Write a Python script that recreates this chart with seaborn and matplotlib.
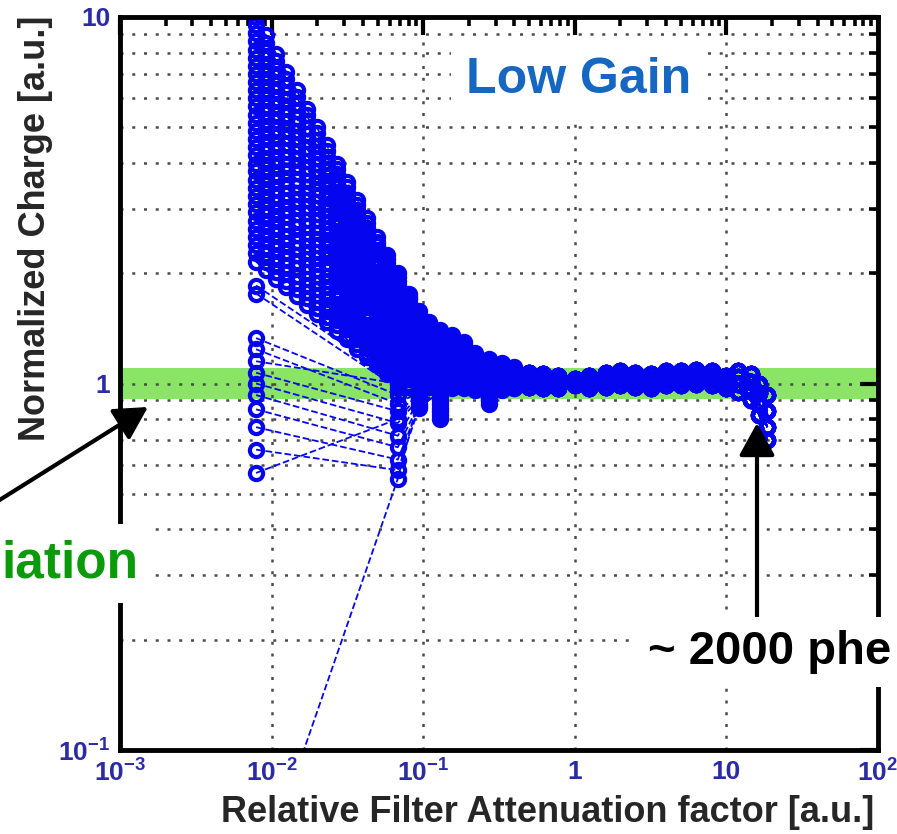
import matplotlib
matplotlib.use('Agg')
import pandas as pd
import matplotlib.pyplot as plt
from matplotlib.patches import FancyArrowPatch
import seaborn as sns

# %%
# attenuation factors, saturated part / transition / flat part
HEAD_X = [0.0079, 0.0092, 0.0107, 0.0125, 0.0146, 0.0170, 0.0198, 0.0231,
          0.0269, 0.0314, 0.0366, 0.0427, 0.0498, 0.0580, 0.0680]
NEAR_X = [0.080, 0.094, 0.11, 0.13, 0.155, 0.185, 0.22, 0.27, 0.33, 0.40]
FLAT_X = [0.50, 0.62, 0.78, 1.0, 1.25, 1.6, 2.0, 2.5, 3.2, 4.0, 5.0, 6.3,
          8.0, 10.0, 12.0, 14.5, 16.5, 18.6]

# normalized charge of the saturated pixels
HEAD_Y = [
    [10.0, 8.91, 7.94, 7.08, 6.31, 5.62, 5.01, 4.47, 3.98, 3.55, 3.16, 2.82, 2.51, 2.24, 2.00],
    [9.52, 8.50, 7.58, 6.77, 6.05, 5.40, 4.82, 4.31, 3.85, 3.43, 3.06, 2.74, 2.44, 2.18, 1.95],
    [9.04, 8.09, 7.23, 6.47, 5.79, 5.19, 4.63, 4.15, 3.72, 3.32, 2.97, 2.66, 2.38, 2.13, 1.91],
    [8.59, 7.71, 6.90, 6.19, 5.55, 4.98, 4.46, 4.00, 3.59, 3.21, 2.88, 2.58, 2.31, 2.08, 1.86],
    [8.15, 7.33, 6.58, 5.92, 5.31, 4.78, 4.29, 3.85, 3.46, 3.11, 2.79, 2.51, 2.25, 2.03, 1.82],
    [7.75, 6.98, 6.28, 5.66, 5.09, 4.59, 4.12, 3.71, 3.34, 3.01, 2.70, 2.44, 2.19, 1.98, 1.78],
    [7.36, 6.64, 5.98, 5.41, 4.88, 4.40, 3.96, 3.58, 3.23, 2.91, 2.62, 2.37, 2.14, 1.93, 1.74],
    [7.00, 6.32, 5.71, 5.17, 4.67, 4.22, 3.81, 3.45, 3.12, 2.81, 2.54, 2.30, 2.08, 1.88, 1.70],
    [6.64, 6.01, 5.44, 4.93, 4.47, 4.05, 3.66, 3.32, 3.01, 2.72, 2.47, 2.23, 2.02, 1.83, 1.66],
    [6.32, 5.73, 5.19, 4.72, 4.28, 3.88, 3.52, 3.20, 2.91, 2.63, 2.39, 2.17, 1.96, 1.78, 1.62],
    [6.00, 5.46, 4.95, 4.51, 4.10, 3.72, 3.39, 3.08, 2.81, 2.55, 2.32, 2.11, 1.91, 1.74, 1.58],
    [5.70, 5.20, 4.73, 4.31, 3.93, 3.58, 3.26, 2.97, 2.71, 2.47, 2.25, 2.05, 1.86, 1.70, 1.54],
    [5.41, 4.94, 4.51, 4.12, 3.76, 3.44, 3.13, 2.86, 2.61, 2.39, 2.18, 1.99, 1.82, 1.66, 1.51],
    [5.15, 4.71, 4.30, 3.94, 3.60, 3.30, 3.01, 2.76, 2.52, 2.31, 2.11, 1.93, 1.77, 1.62, 1.48],
    [4.89, 4.48, 4.10, 3.77, 3.45, 3.16, 2.90, 2.66, 2.44, 2.23, 2.05, 1.87, 1.72, 1.58, 1.45],
    [4.65, 4.27, 3.91, 3.60, 3.30, 3.03, 2.79, 2.56, 2.35, 2.16, 1.98, 1.82, 1.67, 1.54, 1.41],
    [4.41, 4.06, 3.73, 3.44, 3.16, 2.91, 2.68, 2.47, 2.27, 2.09, 1.92, 1.77, 1.63, 1.50, 1.38],
    [4.19, 3.87, 3.56, 3.29, 3.03, 2.80, 2.58, 2.38, 2.19, 2.02, 1.86, 1.72, 1.59, 1.46, 1.35],
    [3.98, 3.68, 3.40, 3.14, 2.90, 2.69, 2.48, 2.29, 2.12, 1.95, 1.81, 1.67, 1.55, 1.43, 1.32],
    [3.79, 3.50, 3.25, 3.00, 2.78, 2.58, 2.38, 2.21, 2.04, 1.89, 1.75, 1.62, 1.50, 1.39, 1.29],
    [3.60, 3.33, 3.10, 2.87, 2.67, 2.47, 2.29, 2.13, 1.97, 1.83, 1.70, 1.57, 1.46, 1.36, 1.26],
    [3.42, 3.17, 2.95, 2.74, 2.55, 2.37, 2.20, 2.05, 1.90, 1.77, 1.65, 1.53, 1.42, 1.32, 1.23],
    [3.24, 3.02, 2.81, 2.62, 2.44, 2.28, 2.12, 1.97, 1.84, 1.71, 1.60, 1.49, 1.38, 1.29, 1.20],
    [3.08, 2.88, 2.68, 2.51, 2.34, 2.18, 2.04, 1.90, 1.77, 1.65, 1.55, 1.44, 1.34, 1.26, 1.17],
    [2.93, 2.74, 2.56, 2.40, 2.24, 2.09, 1.96, 1.83, 1.71, 1.60, 1.50, 1.40, 1.31, 1.23, 1.15],
    [2.78, 2.61, 2.44, 2.29, 2.15, 2.01, 1.88, 1.76, 1.65, 1.55, 1.45, 1.36, 1.27, 1.20, 1.12],
    [2.64, 2.48, 2.33, 2.19, 2.06, 1.93, 1.81, 1.70, 1.60, 1.50, 1.41, 1.32, 1.24, 1.17, 1.10],
    [2.51, 2.36, 2.22, 2.09, 1.97, 1.85, 1.74, 1.64, 1.54, 1.45, 1.36, 1.28, 1.21, 1.14, 1.07],
    [2.39, 2.25, 2.12, 2.00, 1.89, 1.78, 1.67, 1.58, 1.49, 1.41, 1.32, 1.25, 1.18, 1.11, 1.05],
    [2.27, 2.14, 2.02, 1.91, 1.81, 1.71, 1.61, 1.52, 1.44, 1.36, 1.28, 1.21, 1.15, 1.08, 1.02],
    [2.15, 2.04, 1.93, 1.83, 1.73, 1.64, 1.55, 1.47, 1.39, 1.32, 1.24, 1.18, 1.12, 1.06, 1.00],
]
NEAR_Y = [
    [1.75, 1.58, 1.47, 1.40, 1.36, 1.30, 1.21, 1.17, 1.14, 1.11],
    [1.72, 1.55, 1.44, 1.38, 1.33, 1.28, 1.19, 1.16, 1.13, 1.10],
    [1.70, 1.52, 1.42, 1.36, 1.31, 1.26, 1.18, 1.15, 1.12, 1.09],
    [1.66, 1.50, 1.40, 1.34, 1.29, 1.24, 1.17, 1.14, 1.11, 1.08],
    [1.62, 1.47, 1.38, 1.32, 1.27, 1.22, 1.16, 1.13, 1.10, 1.08],
    [1.58, 1.44, 1.36, 1.30, 1.25, 1.20, 1.15, 1.12, 1.10, 1.07],
    [1.55, 1.42, 1.34, 1.28, 1.23, 1.19, 1.14, 1.11, 1.09, 1.07],
    [1.52, 1.40, 1.32, 1.26, 1.21, 1.17, 1.13, 1.10, 1.08, 1.06],
    [1.49, 1.37, 1.30, 1.24, 1.20, 1.16, 1.12, 1.10, 1.08, 1.06],
    [1.46, 1.35, 1.28, 1.22, 1.18, 1.14, 1.11, 1.09, 1.07, 1.05],
    [1.43, 1.33, 1.26, 1.21, 1.17, 1.13, 1.10, 1.08, 1.07, 1.05],
    [1.40, 1.31, 1.24, 1.19, 1.15, 1.12, 1.09, 1.07, 1.06, 1.05],
    [1.38, 1.29, 1.22, 1.18, 1.14, 1.11, 1.08, 1.07, 1.06, 1.05],
    [1.35, 1.27, 1.20, 1.16, 1.13, 1.10, 1.07, 1.06, 1.05, 1.04],
    [1.33, 1.25, 1.19, 1.15, 1.12, 1.09, 1.07, 1.06, 1.05, 1.04],
    [1.30, 1.23, 1.17, 1.13, 1.11, 1.08, 1.06, 1.05, 1.04, 1.03],
    [1.28, 1.21, 1.16, 1.12, 1.10, 1.08, 1.06, 1.05, 1.04, 1.03],
    [1.26, 1.19, 1.14, 1.11, 1.09, 1.07, 1.05, 1.04, 1.03, 1.02],
    [1.24, 1.17, 1.13, 1.10, 1.08, 1.06, 1.05, 1.04, 1.03, 1.02],
    [1.21, 1.15, 1.11, 0.84, 1.07, 1.05, 1.04, 1.03, 1.02, 1.01],
    [1.19, 1.14, 1.10, 1.08, 1.06, 1.05, 1.04, 1.03, 1.02, 1.01],
    [1.17, 1.12, 1.09, 1.07, 1.05, 1.04, 1.03, 0.90, 1.01, 1.00],
    [1.15, 1.11, 1.08, 1.06, 1.05, 1.04, 1.03, 1.02, 1.01, 1.00],
    [1.13, 1.09, 1.07, 0.82, 1.04, 1.03, 1.02, 1.01, 1.00, 1.00],
    [1.11, 1.08, 1.06, 0.86, 1.04, 1.03, 1.02, 1.01, 1.00, 1.00],
    [1.09, 1.06, 1.05, 0.88, 1.03, 1.02, 1.01, 0.95, 0.99, 0.99],
    [1.07, 1.05, 1.04, 0.80, 1.02, 1.01, 1.00, 0.92, 0.99, 0.99],
    [1.05, 1.03, 1.02, 0.93, 1.01, 1.00, 0.99, 0.90, 0.98, 0.98],
    [1.03, 1.02, 1.01, 0.90, 1.00, 0.99, 0.98, 0.88, 0.98, 0.98],
    [1.00, 1.00, 0.99, 0.96, 0.98, 0.98, 0.97, 0.96, 0.97, 0.97],
    [0.98, 0.99, 0.98, 0.95, 0.97, 0.97, 0.96, 0.94, 0.96, 0.97],
]
FLAT_Y = [
    [1.07, 1.06, 1.05, 1.03, 1.05, 1.07, 1.08, 1.07, 1.06, 1.08, 1.08, 1.09, 1.08, 1.05, 1.08, 1.06, 1.00, 0.93],
    [1.04, 1.03, 1.02, 1.01, 1.03, 1.04, 1.05, 1.04, 1.03, 1.05, 1.05, 1.06, 1.05, 1.03, 1.04, 1.01, 0.94, 0.84],
    [1.01, 1.00, 0.99, 1.00, 1.00, 1.01, 1.02, 1.01, 1.00, 1.02, 1.02, 1.03, 1.02, 1.00, 1.00, 0.96, 0.88, 0.76],
    [0.98, 0.97, 0.97, 0.99, 0.97, 0.98, 0.99, 0.98, 0.97, 0.99, 0.99, 1.00, 0.99, 0.97, 0.95, 0.90, 0.82, 0.70],
]

# pixels with only a few attenuation settings
SPARSE_X = [0.0079, 0.068, 0.094, 0.13, 0.22]
SPARSE_Y = [
    [1.85, 1.02, 1.00, 1.02, 1.02],
    [1.76, 0.97, 0.98, 1.01, 1.01],
    [1.33, 0.93, 0.97, 1.00, 1.01],
    [1.24, 0.88, 0.95, 0.99, 1.00],
    [1.15, 1.00, 1.02, 1.03, 1.03],
    [1.07, 0.84, 0.93, 0.98, 1.00],
    [1.00, 0.78, 0.91, 0.97, 0.99],
    [0.93, 0.72, 0.90, 0.97, 0.99],
    [0.85, 0.67, 0.88, 0.96, 0.98],
    [0.76, 0.62, 0.87, 0.95, 0.98],
    [0.66, 0.58, 0.86, 0.95, 0.98],
    [0.57, 0.80, 0.93, 0.98, 1.00],
    [0.042, 0.55, 0.92, 0.98, 1.00],
]

X_TICKS = [1e-3, 1e-2, 1e-1, 1, 10, 100]
X_TICKLABELS = ['10$^{-3}$', '10$^{-2}$', '10$^{-1}$', '1', '10', '10$^{2}$']
Y_TICKS = [0.1, 1, 10]
Y_TICKLABELS = ['10$^{-1}$', '1', '10']

BLUE = '#0505f0'

# %%
rows = []
sid = 0
for i in range(len(HEAD_Y)):
    xs = HEAD_X + NEAR_X + FLAT_X
    ys = HEAD_Y[i] + NEAR_Y[i] + FLAT_Y[i % 4]
    for x, y in zip(xs, ys):
        rows.append((sid, x, y))
    sid += 1
for j in range(len(SPARSE_Y)):
    xs = SPARSE_X + FLAT_X
    ys = SPARSE_Y[j] + FLAT_Y[j % 4]
    for x, y in zip(xs, ys):
        rows.append((sid, x, y))
    sid += 1
df = pd.DataFrame(rows, columns=['pix', 'att', 'charge'])

# %%
sns.set_style('white')
plt.rcParams['font.family'] = ['Liberation Sans', 'DejaVu Sans']
plt.rcParams['mathtext.default'] = 'regular'

W, H = 897, 834
fig = plt.figure(figsize=(W / 100, H / 100), dpi=100)
ax = fig.add_axes([120 / W, 1 - 750 / H, (878 - 120) / W, (750 - 17) / H])
ax.set_xscale('log')
ax.set_yscale('log')

# +-10% band
ax.axhspan(0.905, 1.105, color='#8ae466', zorder=0.3, lw=0)

sns.lineplot(data=df, x='att', y='charge', units='pix', estimator=None,
             color=BLUE, marker='o', markersize=9.5, markerfacecolor='none',
             markeredgecolor=BLUE, markeredgewidth=3, linestyle='--',
             linewidth=1.3, ax=ax, zorder=2)

ax.set_xlim(1e-3, 1e2)
ax.set_ylim(0.1, 10)
ax.set_xlabel('')
ax.set_ylabel('')
ax.set_xticks(X_TICKS, labels=X_TICKLABELS)
ax.set_yticks(Y_TICKS, labels=Y_TICKLABELS)
for lab in ax.get_xticklabels() + ax.get_yticklabels():
    lab.set_fontweight('bold')

ax.set_axisbelow(True)
dots = (0, (1.2, 3.5))
ax.xaxis.grid(True, which='major', linestyle=dots, linewidth=1.8, color='#4a4a4a')
ax.yaxis.grid(True, which='both', linestyle=dots, linewidth=1.8, color='#4a4a4a')

ax.tick_params(which='major', direction='in', length=13, width=3, top=True,
               right=True, labelsize=19, labelcolor='#2b2ba6', pad=7, color='k')
ax.tick_params(which='minor', direction='in', length=6.5, width=2.6, top=True,
               right=True, color='k')
for s in ax.spines.values():
    s.set_linewidth(3.5)
    s.set_color('k')

fig.text(548 / W, 1 - 812 / H, 'Relative Filter Attenuation factor [a.u.]',
         ha='center', va='center', fontsize=26, fontweight='bold')
fig.text(36 / W, 1 - 228 / H, 'Normalized Charge [a.u.]', rotation=90,
         ha='center', va='center', fontsize=26, fontweight='bold')

# annotations
fig.text(579 / W, 1 - 80 / H, 'Low Gain', ha='center', va='center',
         fontsize=36, fontweight='bold', color='#1667c2',
         bbox=dict(boxstyle='square,pad=0.3', fc='white', ec='none'))
fig.text(770 / W, 1 - 652 / H, '~ 2000 phe', ha='center', va='center',
         fontsize=34, fontweight='bold', color='k',
         bbox=dict(boxstyle='square,pad=0.28', fc='white', ec='none'))
fig.text(138 / W, 1 - 577 / H, 'iation', ha='right', va='baseline',
         fontsize=37, fontweight='bold', color='#0a9a0a',
         bbox=dict(boxstyle='square,pad=0.3', fc='white', ec='none'))

for (x0, y0), (x1, y1) in [((-10, 506), (148, 407)), ((757, 640), (757, 423))]:
    arr = FancyArrowPatch((x0 / W, 1 - y0 / H), (x1 / W, 1 - y1 / H),
                          transform=fig.transFigure,
                          arrowstyle='-|>,head_length=0.4,head_width=0.22',
                          mutation_scale=50, lw=3, color='k',
                          shrinkA=0, shrinkB=0)
    fig.add_artist(arr)

fig.savefig('out.png', dpi=100)
